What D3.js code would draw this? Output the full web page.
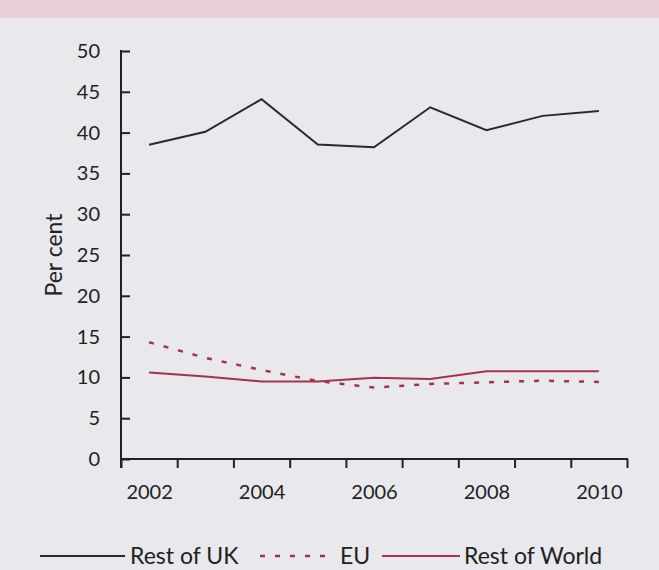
<!DOCTYPE html>
<html><head><meta charset="utf-8">
<script src="https://cdn.jsdelivr.net/npm/d3@7"></script>
<style>
html,body{margin:0;padding:0;background:#e8e8ed;}
svg{display:block;}
text{font-family:Lato,"Open Sans",sans-serif;fill:#222;}
</style></head>
<body>
<svg id="c" width="659" height="570"></svg>
<script>
const years = [2002,2003,2004,2005,2006,2007,2008,2009,2010];
const tickLabels = [2002,2004,2006,2008,2010];
const restOfUK = [38.5,40.1,44.1,38.55,38.2,43.1,40.3,42.05,42.65];
const eu = [14.3,12.4,10.9,9.55,8.75,9.2,9.4,9.6,9.45];
const restOfWorld = [10.6,10.1,9.5,9.5,9.95,9.8,10.75,10.75,10.75];
const yTicks = [0,5,10,15,20,25,30,35,40,45,50];

const svg = d3.select("#c");
svg.append("rect").attr("x",0).attr("y",0).attr("width",659).attr("height",570).attr("fill","#e8e8ed");
svg.append("rect").attr("x",0).attr("y",0).attr("width",659).attr("height",18).attr("fill","#e8d0d9");

const x = d3.scaleLinear().domain([2001.5,2010.5]).range([121,627]);
const y = d3.scaleLinear().domain([0,50]).range([459,51]);

// y axis
const ya = svg.append("g").attr("transform","translate(121,0)")
  .call(d3.axisLeft(y).tickValues(yTicks).tickSize(-9).tickPadding(21).tickFormat(d3.format("d")));
ya.select(".domain").remove();
ya.selectAll("line").attr("stroke","#222").attr("stroke-width",2);
ya.selectAll("text").style("font-size","20px").attr("fill","#222");
svg.append("line").attr("x1",121).attr("x2",121).attr("y1",y(50)-1).attr("y2",468)
  .attr("stroke","#222").attr("stroke-width",2);

// x axis
const boundaries = d3.range(2001.5,2011,1);
const xa = svg.append("g").attr("transform","translate(0,459)")
  .call(d3.axisBottom(x).tickValues(boundaries).tickSize(9).tickFormat(""));
xa.select(".domain").remove();
xa.selectAll("line").attr("stroke","#222").attr("stroke-width",2);
svg.append("line").attr("x1",120).attr("x2",628).attr("y1",459).attr("y2",459)
  .attr("stroke","#222").attr("stroke-width",2);
const xl = svg.append("g").attr("transform","translate(0,459)")
  .call(d3.axisBottom(x).tickValues(tickLabels).tickSize(0).tickPadding(26).tickFormat(d3.format("d")));
xl.select(".domain").remove();
xl.selectAll("text").style("font-size","20px").attr("fill","#222");

// y label
svg.append("text").attr("transform","translate(62,255) rotate(-90)")
  .attr("text-anchor","middle").style("font-size","23px").text("Per cent");

const line = d3.line().x((d,i)=>x(years[i])).y(d=>y(d));
svg.append("path").datum(restOfUK).attr("d",line).attr("fill","none")
  .attr("stroke","#2a2a2a").attr("stroke-width",2);
svg.append("path").datum(restOfWorld).attr("d",line).attr("fill","none")
  .attr("stroke","#a3334f").attr("stroke-width",2);
svg.append("path").datum(eu).attr("d",line).attr("fill","none")
  .attr("stroke","#a3334f").attr("stroke-width",2.5).attr("stroke-dasharray","5,10");

// legend
const leg = svg.append("g");
leg.append("line").attr("x1",40).attr("x2",125).attr("y1",556).attr("y2",556).attr("stroke","#2a2a2a").attr("stroke-width",2);
leg.append("text").attr("x",130).attr("y",564).style("font-size","23px").text("Rest of UK");
leg.append("line").attr("x1",260).attr("x2",328).attr("y1",556).attr("y2",556).attr("stroke","#a3334f").attr("stroke-width",2.5).attr("stroke-dasharray","5,10");
leg.append("text").attr("x",340).attr("y",564).style("font-size","23px").text("EU");
leg.append("line").attr("x1",382).attr("x2",460).attr("y1",556).attr("y2",556).attr("stroke","#a3334f").attr("stroke-width",2);
leg.append("text").attr("x",464).attr("y",564).style("font-size","23px").text("Rest of World");
</script>
</body></html>
